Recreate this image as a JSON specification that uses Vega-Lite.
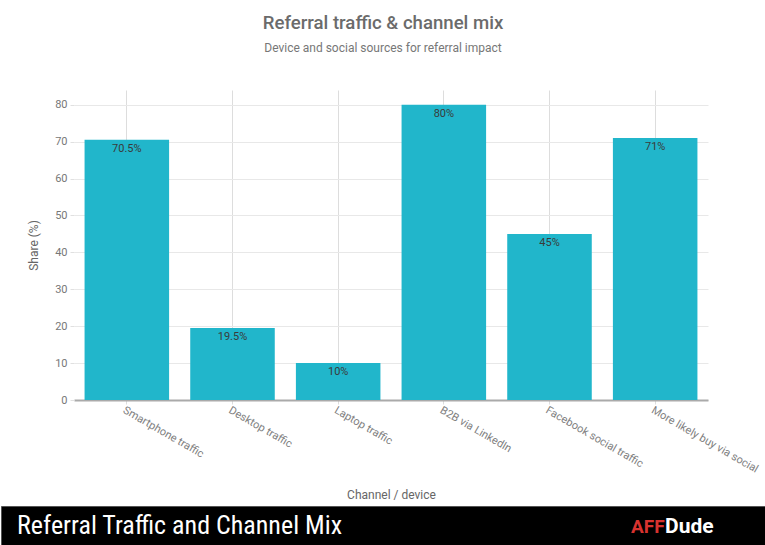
{
  "$schema": "https://vega.github.io/schema/vega-lite/v6.json",
  "description": "Referral traffic & channel mix",
  "padding": {"top": 14, "left": 0, "right": 0, "bottom": 0},
  "background": "#ffffff",
  "bounds": "flush",
  "center": true,
  "spacing": 106,
  "config": {
    "font": "Roboto",
    "view": {"stroke": null}
  },
  "vconcat": [
    {
      "width": 634,
      "height": 310,
      "data": {
        "values": [
          {"channel": "Smartphone traffic", "share": 70.5, "label": "70.5%"},
          {"channel": "Desktop traffic", "share": 19.5, "label": "19.5%"},
          {"channel": "Laptop traffic", "share": 10, "label": "10%"},
          {"channel": "B2B via LinkedIn", "share": 80, "label": "80%"},
          {"channel": "Facebook social traffic", "share": 45, "label": "45%"},
          {"channel": "More likely buy via social", "share": 71, "label": "71%"}
        ]
      },
      "title": {
        "text": "Referral traffic & channel mix",
        "subtitle": "Device and social sources for referral impact",
        "fontSize": 18.6,
        "fontWeight": 500,
        "color": "#6b6b6b",
        "subtitleFontSize": 12,
        "subtitleColor": "#777777",
        "subtitlePadding": 10,
        "offset": 36,
        "anchor": "middle",
        "dx": -8
      },
      "encoding": {
        "x": {
          "field": "channel",
          "type": "nominal",
          "sort": null,
          "title": "Channel / device",
          "scale": {"paddingInner": 0.2, "paddingOuter": 0.1},
          "axis": {
            "labelAngle": 30,
            "labelAlign": "left",
            "labelBaseline": "top",
            "labelFontSize": 11,
            "labelColor": "#808080",
            "labelPadding": 0,
            "bandPosition": 0.5,
            "grid": true,
            "gridColor": "#dddddd",
            "ticks": true,
            "tickSize": 4,
            "tickColor": "#dddddd",
            "domainColor": "#aaaaaa",
            "domainWidth": 2,
            "titleFontSize": 12,
            "titleFontWeight": "normal",
            "titleColor": "#666666",
            "titlePadding": 15
          }
        },
        "y": {
          "field": "share",
          "type": "quantitative",
          "title": "Share (%)",
          "scale": {"domain": [0, 84], "nice": false},
          "axis": {
            "values": [0, 10, 20, 30, 40, 50, 60, 70, 80],
            "labelFontSize": 11,
            "labelColor": "#777777",
            "labelPadding": 3,
            "grid": true,
            "gridColor": "#e8e8e8",
            "domain": false,
            "tickSize": 4,
            "tickColor": "#e0e0e0",
            "titleFontSize": 12,
            "titleFontWeight": "normal",
            "titleColor": "#666666",
            "titlePadding": 14
          }
        }
      },
      "layer": [
        {
          "mark": {"type": "bar", "color": "#21b6cb"}
        },
        {
          "mark": {
            "type": "text",
            "baseline": "top",
            "dy": 3,
            "fontSize": 11,
            "color": "#3a3a3a"
          },
          "encoding": {
            "text": {"field": "label", "type": "nominal"}
          }
        }
      ]
    },
    {
      "width": 780,
      "height": 40,
      "view": {"fill": "#000000", "stroke": "#555555", "strokeWidth": 1},
      "data": {
        "values": [
          {"slot": "caption", "part": "caption", "text": "Referral Traffic and Channel Mix"},
          {"slot": "brand", "part": "aff", "text": "AFF"},
          {"slot": "brand", "part": "dude", "text": "Dude"}
        ]
      },
      "encoding": {
        "x": {
          "field": "slot",
          "type": "nominal",
          "axis": null,
          "scale": {"type": "point", "domain": ["caption", "brand"], "range": [16, 630], "padding": 0}
        },
        "color": {
          "field": "part",
          "type": "nominal",
          "legend": null,
          "scale": {"domain": ["caption", "aff", "dude"], "range": ["#ffffff", "#d8322f", "#ffffff"]}
        },
        "text": {"field": "text", "type": "nominal"}
      },
      "layer": [
        {
          "transform": [{"filter": "datum.part === 'caption'"}],
          "mark": {
            "type": "text",
            "align": "left",
            "baseline": "middle",
            "dy": 0,
            "font": "Liberation Sans Narrow, Roboto Condensed, Roboto",
            "fontSize": 26
          }
        },
        {
          "transform": [{"filter": "datum.part === 'aff'"}],
          "mark": {
            "type": "text",
            "align": "left",
            "baseline": "middle",
            "dy": 1,
            "font": "Liberation Sans Narrow, Roboto",
            "fontWeight": "bold",
            "fontSize": 19
          }
        },
        {
          "transform": [{"filter": "datum.part === 'dude'"}],
          "mark": {
            "type": "text",
            "align": "left",
            "baseline": "middle",
            "dx": 34,
            "dy": 1,
            "font": "Liberation Sans Narrow, Roboto",
            "fontWeight": "bold",
            "fontSize": 21
          }
        }
      ]
    }
  ]
}
